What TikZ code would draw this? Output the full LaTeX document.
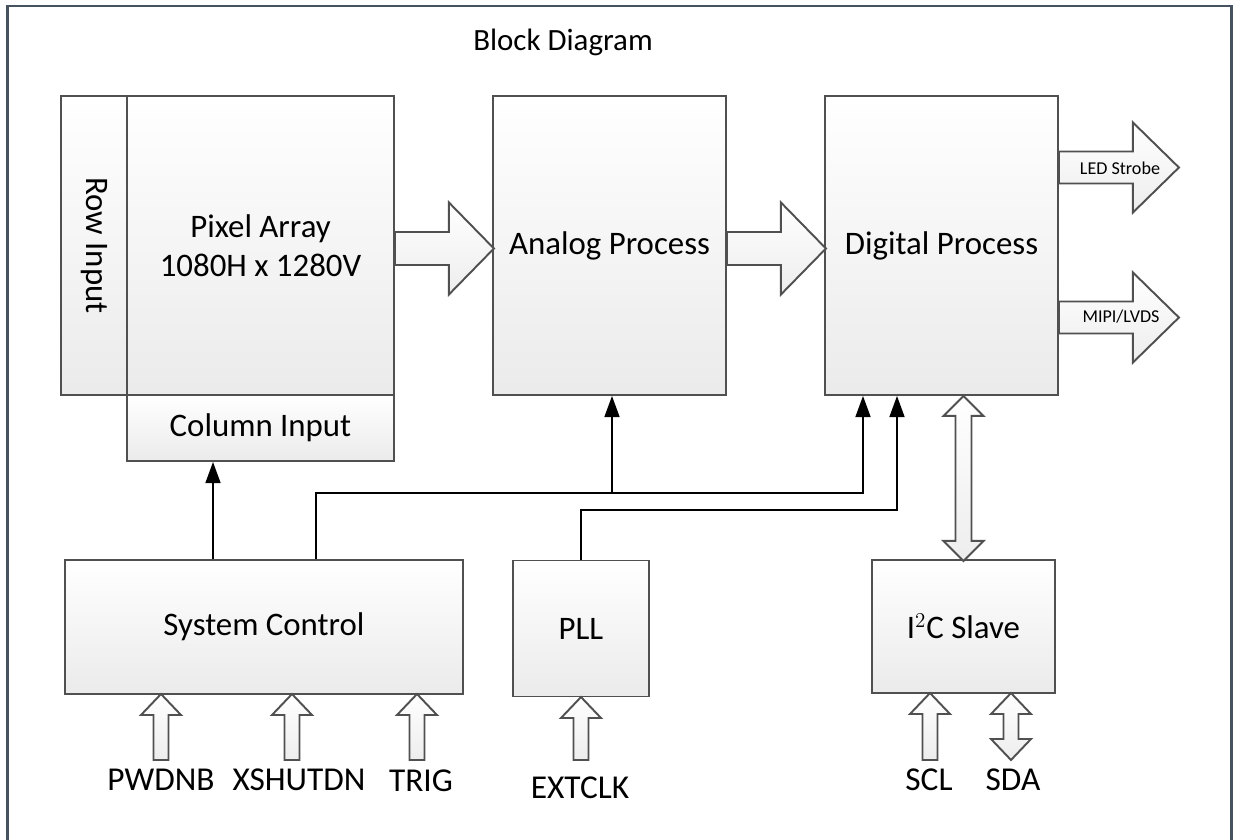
\documentclass[tikz,border=0pt]{standalone}
\usepackage{fontspec}
\setmainfont{Carlito}
\usepackage{tikz}
\usetikzlibrary{arrows.meta,calc}

\definecolor{framecol}{HTML}{46535E}
\definecolor{edgecol}{HTML}{505050}

% fat block arrow: start, rotation, length, shaft half, head half, head length
\newcommand{\fatarrow}[6]{%
  \draw[fat, shift={#1}, rotate=#2] (0,-#4) -- (#3-#6,-#4) -- (#3-#6,-#5) -- (#3,0)
    -- (#3-#6,#5) -- (#3-#6,#4) -- (0,#4) -- cycle;}
% same with a head on both ends
\newcommand{\fatdblarrow}[6]{%
  \draw[fat, shift={#1}, rotate=#2] (0,0) -- (#6,-#5) -- (#6,-#4) -- (#3-#6,-#4) -- (#3-#6,-#5)
    -- (#3,0) -- (#3-#6,#5) -- (#3-#6,#4) -- (#6,#4) -- (#6,#5) -- cycle;}

\begin{document}
\begin{tikzpicture}[x=0.02cm,y=-0.02cm,
    box/.style={draw=edgecol,line width=1.1pt,top color=white,bottom color=black!8,
      inner sep=0pt,font=\fontsize{18.7}{22}\selectfont,align=center},
    fat/.style={draw=edgecol,line width=1.1pt,top color=white,bottom color=black!7,line join=miter},
    sig/.style={-{Triangle[length=12pt,width=8.5pt]},line width=1pt},
    pinlabel/.style={anchor=base,font=\fontsize{19}{20}\selectfont},
    buslabel/.style={font=\fontsize{10.3}{12}\selectfont}]

  \useasboundingbox (0,0) rectangle (1238,839);
  \clip (0,0) rectangle (1238,839);
  \draw[framecol,line width=1.7pt] (7.5,6) rectangle (1231.5,880);

  \node[font=\fontsize{17.6}{20}\selectfont] (title) at (563,42) {Block Diagram};

  % sensor blocks
  \node[box,minimum width=1.32cm,minimum height=5.98cm] (rowin) at (94,245.5) {};
  \node[rotate=-90,font=\fontsize{18.7}{22}\selectfont] (rowtxt) at (rowin.center) {Row Input};
  \node[box,minimum width=5.34cm,minimum height=5.98cm] (pix) at (260.5,245.5) {Pixel Array\\1080H x 1280V};
  \node[box,minimum width=5.34cm,minimum height=1.32cm] (colin) at (260.5,428) {Column Input};
  \node[box,minimum width=4.66cm,minimum height=5.98cm] (ana) at (609.5,245.5) {Analog Process};
  \node[box,minimum width=4.66cm,minimum height=5.98cm] (dig) at (941.5,245.5) {Digital Process};

  % lower blocks
  \node[box,minimum width=7.96cm,minimum height=2.68cm] (sys) at (264,627) {System Control};
  \node[box,minimum width=2.72cm,minimum height=2.72cm] (pll) at (581,628.5) {PLL};
  \node[box,minimum width=3.66cm,minimum height=2.66cm] (i2c) at (963.5,626.5) {I$^2$C Slave};

  % data path
  \fatarrow{($(pix.east)+(0,3)$)}{0}{99}{16.5}{46}{45}
  \fatarrow{($(ana.east)+(0,3)$)}{0}{99}{16.5}{46}{45}
  \fatarrow{($(dig.east)+(0,-78)$)}{0}{120}{16}{45}{46}
  \fatarrow{($(dig.east)+(0,72)$)}{0}{120}{16}{45}{46}
  \node[buslabel] (led) at (1120,168) {LED Strobe};
  \node[buslabel] (mipi) at (1121,317) {MIPI/LVDS};

  % control lines
  \coordinate (sysup) at (316,493);
  \coordinate (tap) at (612,493);
  \coordinate (dighi) at (863,493);
  \coordinate (plllo) at (897,510);
  \draw[sig] (sys.north -| 213,0) -- (colin.south -| 213,0);
  \draw[sig] (sys.north -| sysup) -- (sysup) -- (dighi) -- (dig.south -| dighi);
  \draw[sig] (tap) -- (ana.south -| tap);
  \draw[sig] (pll.north) -- (pll.north |- plllo) -- (plllo) -- (dig.south -| plllo);

  % I2C bus
  \fatdblarrow{(dig.south -| i2c.north)}{-90}{165}{8}{20}{20}

  % pins
  \fatarrow{(161,760)}{90}{66}{7.5}{20}{21}
  \fatarrow{(292,760)}{90}{66}{7.5}{20}{21}
  \fatarrow{(417,760)}{90}{66}{7.5}{20}{21}
  \fatarrow{(581,760)}{90}{63}{7.5}{20}{21}
  \fatarrow{(930,760)}{90}{67}{7.5}{20}{21}
  \fatdblarrow{(1011,760)}{90}{67}{7.5}{20}{21}
  \node[pinlabel] (pwdnb) at (161,790) {PWDNB};
  \node[pinlabel] (xshut) at (299,790) {XSHUTDN};
  \node[pinlabel] (trig) at (421,791) {TRIG};
  \node[pinlabel] (extclk) at (580,798) {EXTCLK};
  \node[pinlabel] (scl) at (929,790) {SCL};
  \node[pinlabel] (sda) at (1013,790) {SDA};

\end{tikzpicture}
\end{document}
